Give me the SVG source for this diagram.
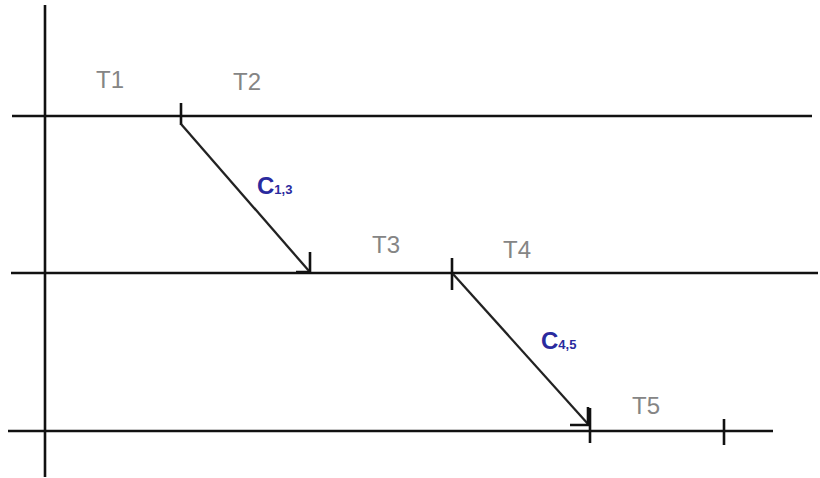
<svg xmlns="http://www.w3.org/2000/svg" width="820" height="478" viewBox="0 0 820 478">
  <style>
    .axis { stroke: #111; stroke-width: 2.6; fill: none; stroke-linecap: butt; }
    .tick { stroke: #111; stroke-width: 2.6; fill: none; }
    .msg { stroke: #222; stroke-width: 2.3; fill: none; }
    .head { stroke: #111; stroke-width: 2.6; fill: none; }
    .lbl { font-family: "Liberation Sans", Arial, sans-serif; font-size: 24px; fill: #858585; }
    .cost { font-family: "Liberation Sans", Arial, sans-serif; font-weight: bold; fill: #2a2a9e; }
  </style>
  <rect width="820" height="478" fill="#ffffff"/>

  <!-- time axis and process lines -->
  <g id="axes">
    <line class="axis" x1="45" y1="5" x2="45" y2="477"/>
    <line class="axis" x1="12" y1="116" x2="812" y2="116"/>
    <line class="axis" x1="11" y1="273" x2="818" y2="273"/>
    <line class="axis" x1="8" y1="431" x2="773" y2="431"/>
  </g>

  <!-- task boundaries -->
  <g id="ticks">
    <line class="tick" x1="181" y1="103" x2="181" y2="125"/>
    <line class="tick" x1="452" y1="258" x2="452" y2="290"/>
    <line class="tick" x1="590" y1="408" x2="590" y2="443"/>
    <line class="tick" x1="724" y1="419" x2="724" y2="445"/>
  </g>

  <!-- task labels -->
  <g id="T1"><text class="lbl" x="96" y="88">T1</text></g>
  <g id="T2"><text class="lbl" x="233" y="90">T2</text></g>
  <g id="T3"><text class="lbl" x="372" y="253">T3</text></g>
  <g id="T4"><text class="lbl" x="503" y="258">T4</text></g>
  <g id="T5"><text class="lbl" x="632" y="414">T5</text></g>

  <!-- communication edges -->
  <g id="connectors">
    <line class="msg" x1="181" y1="124" x2="309" y2="271"/>
    <polyline class="head" points="310,252 310,272 296,272"/>
    <line class="msg" x1="453" y1="274" x2="588" y2="424"/>
    <polyline class="head" points="588,407 588,425 570,425"/>
  </g>

  <!-- edge costs -->
  <g id="C13">
    <text class="cost" x="257" y="194" font-size="24">C<tspan font-size="13">1,3</tspan></text>
  </g>
  <g id="C45">
    <text class="cost" x="541" y="349" font-size="24">C<tspan font-size="13">4,5</tspan></text>
  </g>
</svg>
